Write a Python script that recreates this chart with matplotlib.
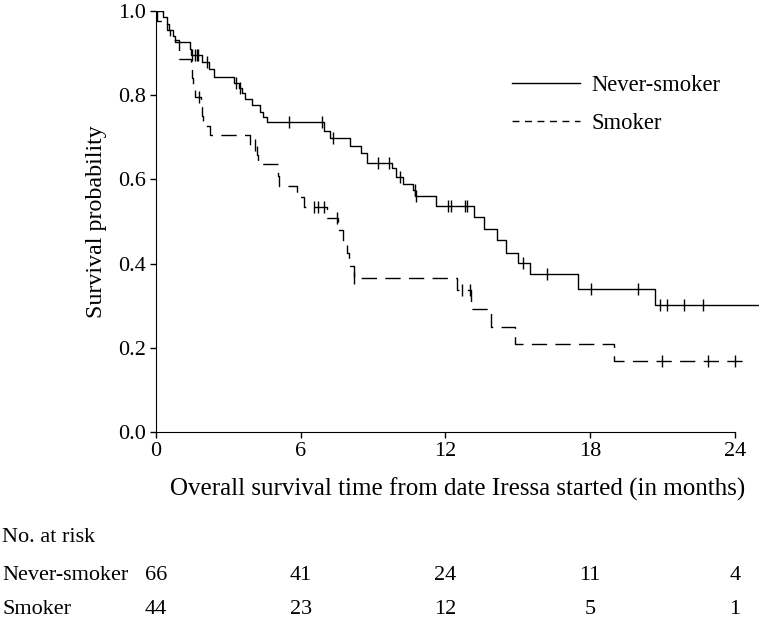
import numpy as np
import matplotlib
matplotlib.use("Agg")
import matplotlib.pyplot as plt
from matplotlib.lines import Line2D
import matplotlib.transforms as mtransforms

plt.rcParams['font.family'] = ['Liberation Serif', 'DejaVu Serif']

# Kaplan-Meier steps (time in months, survival after the drop)
never_t = [0.3, 0.45, 0.55, 0.7, 0.8, 1.4, 1.45, 1.9, 2.2, 2.4, 3.25, 3.45, 3.55, 3.7,
           4.0, 4.3, 4.45, 4.6, 6.95, 7.2, 8.05, 8.5, 8.75, 9.8, 9.95, 10.25, 10.65,
           10.75, 11.6, 13.2, 13.6, 14.15, 14.5, 15.0, 15.5, 17.5, 20.7]
never_s = [0.985, 0.97, 0.955, 0.94, 0.926, 0.91, 0.895, 0.878, 0.862, 0.843, 0.83,
           0.818, 0.805, 0.79, 0.776, 0.76, 0.748, 0.736, 0.716, 0.698, 0.679, 0.662,
           0.64, 0.626, 0.605, 0.59, 0.574, 0.56, 0.536, 0.51, 0.483, 0.455, 0.426,
           0.402, 0.375, 0.34, 0.302]
never_end = 25.0
never_cens = [0.0, 1.5, 1.6, 1.7, 1.75, 2.1, 3.3, 3.5, 5.5, 6.9, 7.35, 9.2, 9.67, 10.1,
              10.72, 10.8, 12.1, 12.25, 12.8, 12.9, 15.2, 16.2, 18.05, 20.0, 20.9,
              21.2, 21.9, 22.7]

smoker_t = [0.05, 0.45, 0.6, 0.95, 0.97, 1.45, 1.5, 1.55, 1.6, 1.85, 1.9, 1.95, 2.25,
            3.9, 4.2, 4.22, 5.06, 5.08, 5.85, 6.15, 7.1, 7.55, 7.75, 7.9, 8.0, 8.2,
            12.5, 13.07, 13.9, 14.9, 18.97]
smoker_s = [0.977, 0.955, 0.932, 0.909, 0.886, 0.864, 0.841, 0.818, 0.795, 0.773, 0.75,
            0.727, 0.705, 0.682, 0.659, 0.636, 0.607, 0.584, 0.557, 0.534, 0.508, 0.48,
            0.453, 0.425, 0.395, 0.365, 0.336, 0.293, 0.25, 0.21, 0.168]
smoker_end = 24.6
smoker_cens = [1.8, 4.1, 6.55, 6.7, 6.95, 7.5, 8.22, 12.7, 13.0, 21.0, 22.9, 24.0]

risk_times = [0, 6, 12, 18, 24]
risk_never = [66, 41, 24, 11, 4]
risk_smoker = [44, 23, 12, 5, 1]
group_names = ['Never-smoker', 'Smoker']


def km_arrays(times, surv, end):
    x = np.concatenate([[0.0], times, [end]])
    y = np.concatenate([[1.0], surv, [surv[-1]]])
    return x, y


def surv_at(times, surv, t):
    i = np.searchsorted(times, t, side='right')
    return 1.0 if i == 0 else surv[i - 1]


fig = plt.figure(figsize=(7.62, 6.26), dpi=100)
ax = fig.add_axes([0.2047, 0.31, 0.7913, 0.6725])

dash_style = (0, (11, 6))

x, y = km_arrays(never_t, never_s, never_end)
ax.step(x, y, where='post', color='black', lw=1.0)
ax.plot(never_cens, [surv_at(never_t, never_s, c) for c in never_cens],
        ls='none', marker='|', ms=8, mew=1.0, color='black')

x, y = km_arrays(smoker_t, smoker_s, smoker_end)
ax.step(x, y, where='post', color='black', lw=1.0, linestyle=dash_style)
ax.plot(smoker_cens, [surv_at(smoker_t, smoker_s, c) for c in smoker_cens],
        ls='none', marker='|', ms=8, mew=1.0, color='black')

ax.set_xlim(0, 25)
ax.set_ylim(0, 1.0)
ax.set_xticks(risk_times)
ax.set_yticks(np.arange(0, 1.01, 0.2))
ax.set_yticklabels([f'{v:.1f}' for v in np.arange(0, 1.01, 0.2)])
ax.tick_params(labelsize=16, length=4.5, width=1.0, direction='out', pad=2.5)
for side in ['top', 'right']:
    ax.spines[side].set_visible(False)
ax.spines['bottom'].set_bounds(0, 24)
ax.set_xlabel('Overall survival time from date Iressa started (in months)', fontsize=18, labelpad=12)
ax.set_ylabel('Survival probability', fontsize=17.3, labelpad=8)

handles = [Line2D([], [], color='black', lw=1.0),
           Line2D([], [], color='black', lw=1.0, linestyle=(0, (5, 4)))]
ax.legend(handles, group_names, loc='upper left', bbox_to_anchor=(0.59, 0.847),
          frameon=False, fontsize=16.3, handlelength=3.0, handletextpad=0.53,
          labelspacing=0.73, borderpad=0, borderaxespad=0)

# number at risk table
fs_tab = 16
trans = mtransforms.blended_transform_factory(ax.transData, fig.transFigure)
fig.text(0.003, 1 - 537 / 626, 'No. at risk', fontsize=fs_tab, va='center')
for row, (name, counts) in enumerate(zip(group_names, [risk_never, risk_smoker])):
    yy = 1 - (575 + 34 * row) / 626
    fig.text(0.003, yy, name, fontsize=fs_tab, va='center')
    for t, n in zip(risk_times, counts):
        ax.text(t, yy, str(n), transform=trans, fontsize=fs_tab, ha='center', va='center')

fig.savefig('out.png', dpi=100)
